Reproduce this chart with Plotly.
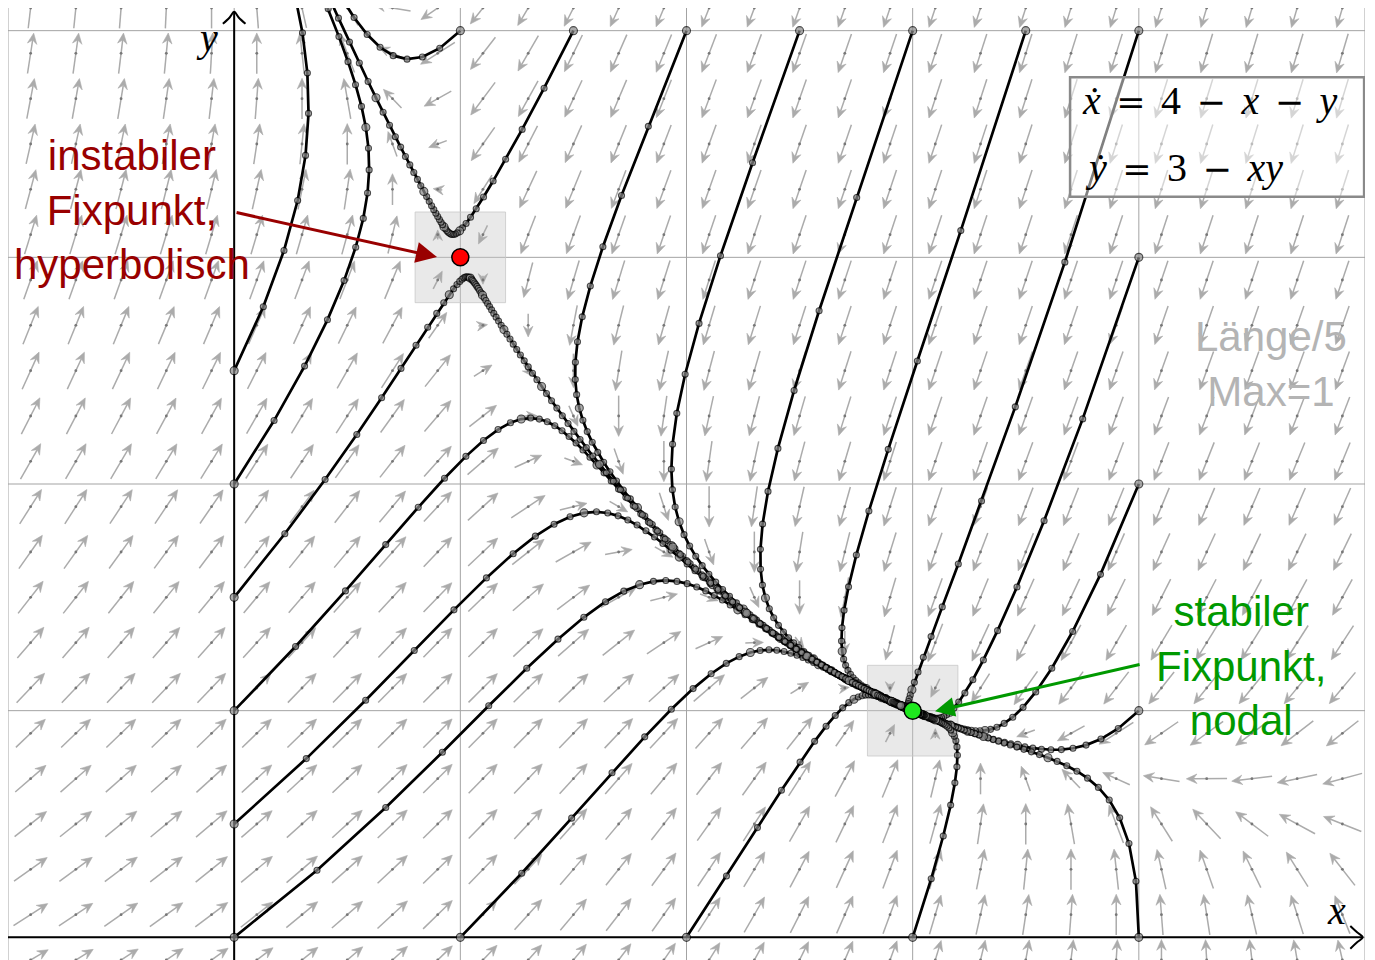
import numpy as np
import plotly.graph_objects as go

# ---------------- data ----------------
# system shown in the chart:  xdot = A - x - y ,  ydot = B - x*y
COEF_A = 4.0
COEF_B = 3.0

# starting points of the trajectories (dots on the frame)
START_X = [1.0, 1.5, 2.0, 2.5, 3.0, 3.5, 4.0, 4.0, 4.0, 4.0, 4.0, 0.0, 1.0, 2.0, 3.0, 0.0, 0.0, 0.0, 0.0, 0.0]
START_Y = [4.0, 4.0, 4.0, 4.0, 4.0, 4.0, 4.0, 3.0, 2.0, 1.0, 0.0, 0.0, 0.0, 0.0, 0.0, 0.5, 1.0, 1.5, 2.0, 2.5]
TIME_STEP = 0.1
MAX_STEPS = 130

# fixed points
FIXED_X = [1.0, 3.0]
FIXED_Y = [3.0, 1.0]
FIXED_COLORS = ["#ff0000", "#1ee81e"]

# direction-field sample points
FIELD_X = [-0.9, -0.7, -0.5, -0.3, -0.1, 0.1, 0.3, 0.5, 0.7, 0.9, 1.1, 1.3, 1.5, 1.7, 1.9,
           2.1, 2.3, 2.5, 2.7, 2.9, 3.1, 3.3, 3.5, 3.7, 3.9, 4.1, 4.3, 4.5, 4.7, 4.9]
FIELD_Y = [-0.1, 0.1, 0.3, 0.5, 0.7, 0.9, 1.1, 1.3, 1.5, 1.7, 1.9, 2.1, 2.3, 2.5, 2.7, 2.9,
           3.1, 3.3, 3.5, 3.7, 3.9, 4.1]
ARROW_DIVISOR = 5.0   # "Länge/5"
ARROW_MAX = 0.18

GRID_X = [-1, 0, 1, 2, 3, 4, 5]
GRID_Y = [0, 1, 2, 3, 4]

LABEL_UNSTABLE = "instabiler<br>Fixpunkt,<br>hyperbolisch"
LABEL_STABLE = "stabiler<br>Fixpunkt,<br>nodal"
LABEL_SCALE = "Länge/5<br>Max=1"

SP = '<span style="font-size:62px">\u00a0</span>'


def op(s):
    return '<span style="font-family:DejaVu Serif;font-size:35px">' + s + '</span>'


EQ1 = "<i>ẋ</i>" + SP + op("=") + SP + "4" + SP + op("−") + SP + "<i>x</i>" + SP + op("−") + SP + "<i>y</i>"
EQ2 = "<i>ẏ</i>" + SP + op("=") + SP + "3" + SP + op("−") + SP + "<i>xy</i>"


def field(p):
    x, y = p
    return np.array([COEF_A - x - y, COEF_B - x * y])


def rk4(p, h):
    k1 = field(p)
    k2 = field(p + h / 2 * k1)
    k3 = field(p + h / 2 * k2)
    k4 = field(p + h * k3)
    return p + h / 6 * (k1 + 2 * k2 + 2 * k3 + k4)


XR = [-1.0, 5.0]
YR = [-0.1, 4.1]

fig = go.Figure()

# ---- direction field ----
sx, sy, hx, hy, cx, cy = [], [], [], [], [], []
HEAD_L = 0.047
HEAD_W = 0.021
for x in FIELD_X:
    for y in FIELD_Y:
        v = field(np.array([x, y]))
        s = float(np.hypot(*v))
        if s < 1e-9:
            continue
        u = v / s
        n = np.array([-u[1], u[0]])
        L = min(s / ARROW_DIVISOR, ARROW_MAX)
        c = np.array([x, y])
        tail = c - u * L / 2
        tip = c + u * L / 2
        notch = tip - u * HEAD_L * 0.65
        if L > HEAD_L * 0.65:
            sx += [tail[0], notch[0], None]
            sy += [tail[1], notch[1], None]
        b1 = tip - u * HEAD_L + n * HEAD_W
        b2 = tip - u * HEAD_L - n * HEAD_W
        for q in (tip, b1, notch, b2, tip):
            hx.append(q[0]); hy.append(q[1])
        hx.append(None); hy.append(None)
        cx.append(x); cy.append(y)

fig.add_trace(go.Scatter(x=sx, y=sy, mode="lines", line=dict(color="#ababab", width=1.5),
                         hoverinfo="skip"))
fig.add_trace(go.Scatter(x=hx, y=hy, mode="lines", fill="toself", fillcolor="#ababab",
                         line=dict(color="#ababab", width=0.6), hoverinfo="skip"))
fig.add_trace(go.Scatter(x=cx, y=cy, mode="markers", marker=dict(size=2.8, color="#777777"),
                         hoverinfo="skip"))

# ---- trajectories ----
lx, ly, mx, my, ms = [], [], [], [], []
for x0, y0 in zip(START_X, START_Y):
    p = np.array([x0, y0])
    pts = [p]
    for i in range(MAX_STEPS):
        p = rk4(p, TIME_STEP)
        pts.append(p)
        if p[0] < XR[0] - 0.15 or p[0] > XR[1] + 0.15 or p[1] < YR[0] - 0.15 or p[1] > YR[1] + 0.15:
            break
    pts = np.array(pts)
    lx += list(pts[:, 0]) + [None]
    ly += list(pts[:, 1]) + [None]
    for k, q in enumerate(pts):
        mx.append(q[0]); my.append(q[1])
        ms.append(8 if k % 10 == 0 else 6)

fig.add_trace(go.Scatter(x=lx, y=ly, mode="lines", line=dict(color="black", width=2.7),
                         hoverinfo="skip"))
fig.add_trace(go.Scatter(x=mx, y=my, mode="markers",
                         marker=dict(size=ms, color="#8a8a8a", line=dict(color="black", width=1.1)),
                         hoverinfo="skip"))

# ---- fixed points ----
fig.add_trace(go.Scatter(x=FIXED_X, y=FIXED_Y, mode="markers",
                         marker=dict(size=17, color=FIXED_COLORS, line=dict(color="black", width=1.5)),
                         hoverinfo="skip"))

# ---- axis arrows ----
fig.add_trace(go.Scatter(x=[-0.05, -0.02, 0.0, 0.02, 0.05], y=[4.03, 4.058, 4.083, 4.058, 4.03],
                         mode="lines", line=dict(color="black", width=2, shape="spline"),
                         hoverinfo="skip", cliponaxis=False))
fig.add_trace(go.Scatter(x=[4.935, 4.965, 4.99, 4.965, 4.935], y=[0.05, 0.022, 0.0, -0.022, -0.05],
                         mode="lines", line=dict(color="black", width=2, shape="spline"),
                         hoverinfo="skip", cliponaxis=False))

shapes = []
for gx in GRID_X:
    shapes.append(dict(type="line", x0=gx, x1=gx, y0=YR[0], y1=YR[1], layer="below",
                       line=dict(color="#a3a3a3", width=1)))
for gy in GRID_Y:
    shapes.append(dict(type="line", x0=XR[0], x1=XR[1], y0=gy, y1=gy, layer="below",
                       line=dict(color="#a3a3a3", width=1)))
for fx, fy in zip(FIXED_X, FIXED_Y):
    shapes.append(dict(type="rect", x0=fx - 0.2, x1=fx + 0.2, y0=fy - 0.2, y1=fy + 0.2, layer="between",
                       fillcolor="rgba(200,200,200,0.4)", line=dict(color="rgba(200,200,200,0.8)", width=1)))
# axes
shapes.append(dict(type="line", x0=XR[0], x1=4.99, y0=0, y1=0, layer="between",
                   line=dict(color="black", width=2)))
shapes.append(dict(type="line", x0=0, x1=0, y0=YR[0], y1=4.083, layer="between",
                   line=dict(color="black", width=2)))
# equation box
shapes.append(dict(type="rect", x0=3.696, x1=4.996, y0=3.267, y1=3.795, layer="above",
                   fillcolor="rgba(255,255,255,0.5)", line=dict(color="#8a8a8a", width=2.5)))

ann = []
sans = "Liberation Sans, Arial, sans-serif"
serif = "Liberation Serif, DejaVu Serif, serif"
ann.append(dict(x=-0.451, y=3.208, text=LABEL_UNSTABLE, showarrow=False,
                font=dict(family=sans, size=42, color="#990000"), xanchor="center", yanchor="middle"))
ann.append(dict(x=4.452, y=1.196, text=LABEL_STABLE, showarrow=False,
                font=dict(family=sans, size=42, color="#009900"), xanchor="center", yanchor="middle"))
ann.append(dict(x=4.584, y=2.529, text=LABEL_SCALE, showarrow=False,
                font=dict(family=sans, size=42, color="#b4b4b4"), xanchor="center", yanchor="middle"))
ann.append(dict(x=0.897, y=3.001, ax=0.004, ay=3.199, axref="x", ayref="y", text="",
                showarrow=True, arrowhead=2, arrowsize=1.4, arrowwidth=3, arrowcolor="#990000"))
ann.append(dict(x=3.099, y=0.997, ax=4.010, ay=1.205, axref="x", ayref="y", text="",
                showarrow=True, arrowhead=2, arrowsize=1.3, arrowwidth=3, arrowcolor="#009900"))
ann.append(dict(x=3.740, y=3.724, text=EQ1, showarrow=False, xanchor="left", yanchor="middle",
                font=dict(family=serif, size=40, color="black")))
ann.append(dict(x=3.753, y=3.429, text=EQ2, showarrow=False, xanchor="left", yanchor="middle",
                font=dict(family=serif, size=40, color="black")))
ann.append(dict(x=-0.119, y=3.972, text="<i>y</i>", showarrow=False,
                font=dict(family=serif, size=40, color="black")))
ann.append(dict(x=4.872, y=0.119, text="<i>x</i>", showarrow=False,
                font=dict(family=serif, size=40, color="black")))

# the page body adds an 8px offset; margins compensate so the plot area lands where the reference has it
fig.update_layout(
    width=1375, height=960,
    margin=dict(l=0, r=18, t=0, b=8),
    plot_bgcolor="white", paper_bgcolor="white",
    showlegend=False,
    xaxis=dict(range=XR, showgrid=False, zeroline=False, showticklabels=False, ticks="",
               showline=False, fixedrange=True),
    yaxis=dict(range=YR, showgrid=False, zeroline=False, showticklabels=False, ticks="",
               showline=False, fixedrange=True),
    shapes=shapes,
    annotations=ann,
)

fig.write_html("out.html")
